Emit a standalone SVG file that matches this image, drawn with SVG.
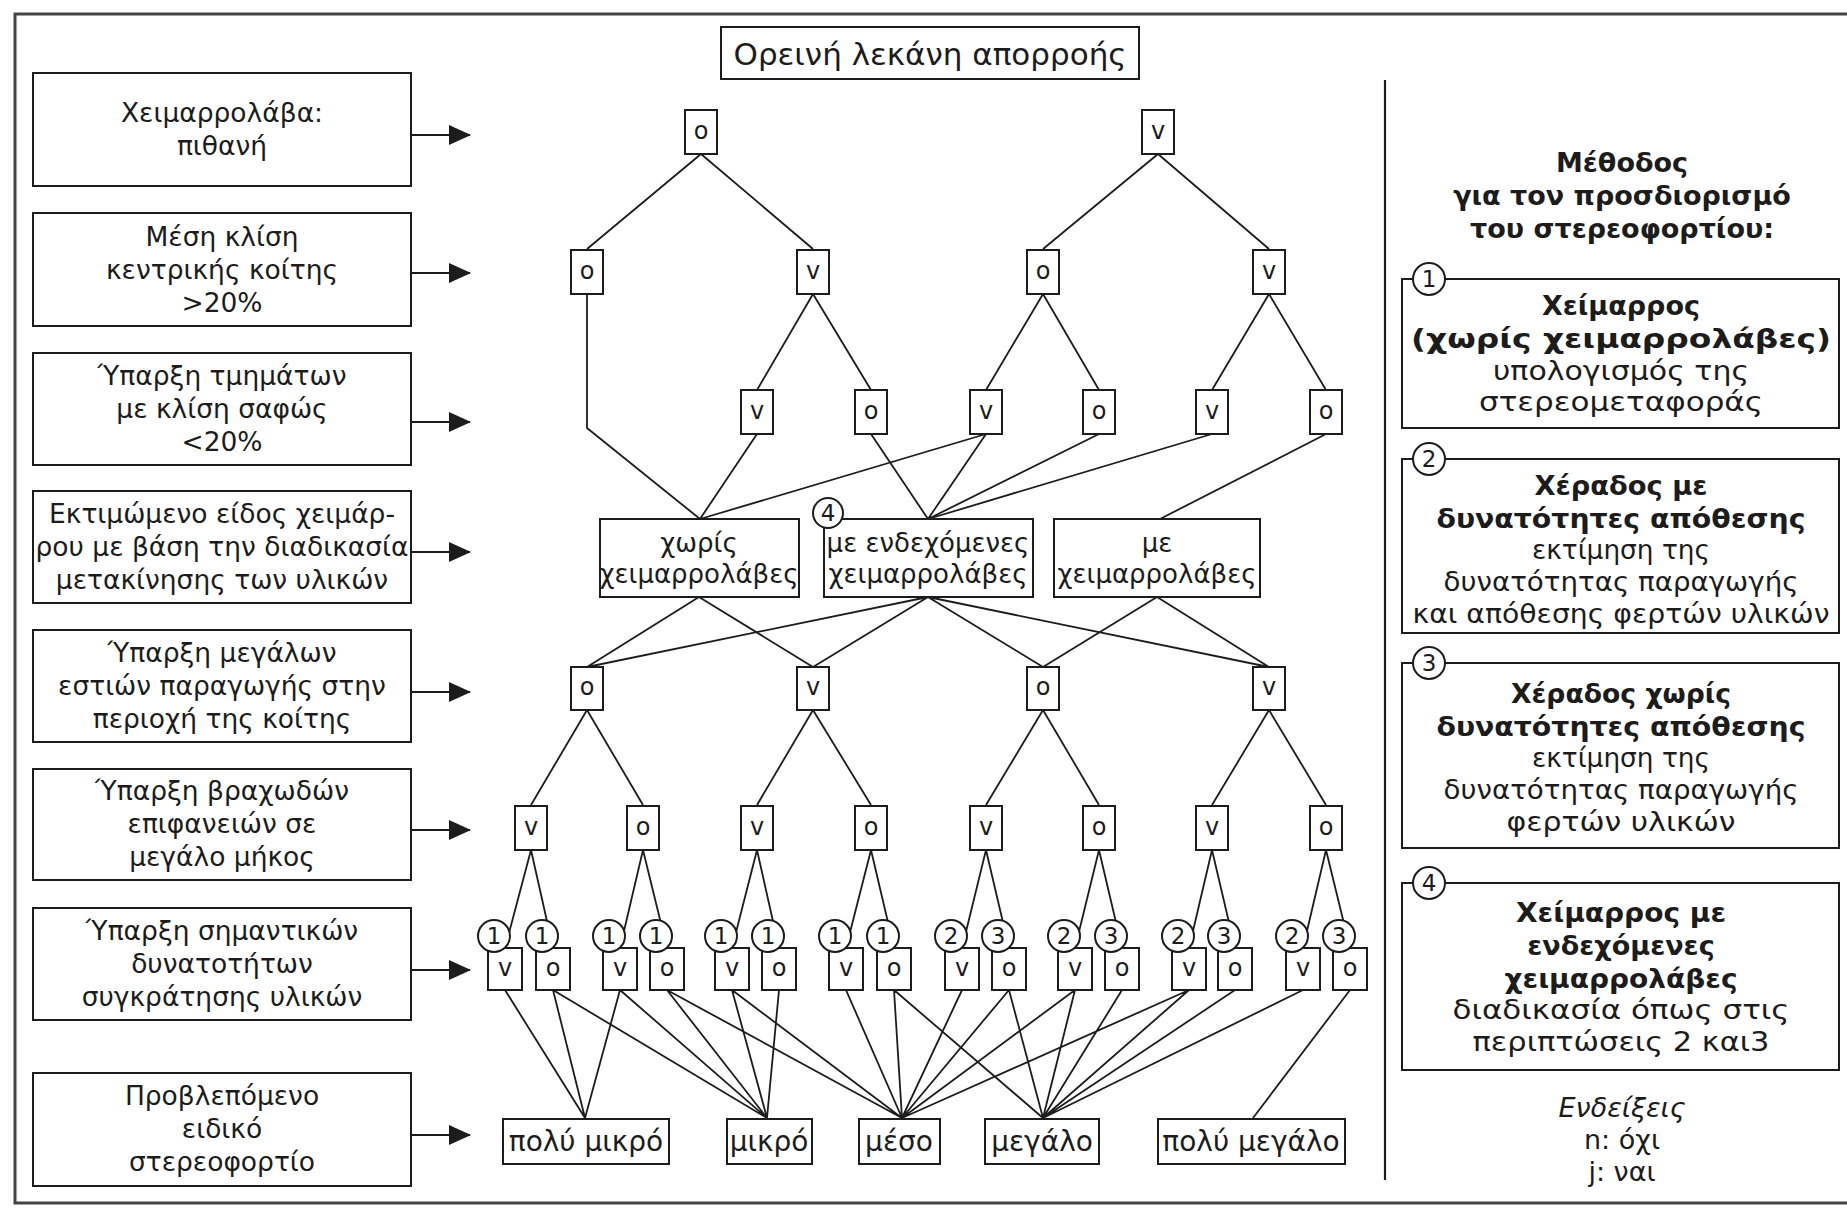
<svg xmlns="http://www.w3.org/2000/svg" width="1847" height="1208" viewBox="0 0 1847 1208">
<defs>
<style>
text{font-family:"DejaVu Sans","Liberation Sans",sans-serif;fill:#1c1c1c}
.bx{fill:#fff;stroke:#1c1c1c;stroke-width:2}
.ln{stroke:#1c1c1c;stroke-width:1.8;fill:none}
.lb{font-size:26.5px;text-anchor:middle}
.dl{font-size:26px;text-anchor:middle}
.nd{font-size:24px;text-anchor:middle}
.ci{fill:#fff;stroke:#1c1c1c;stroke-width:2}
.cn{font-size:23px;text-anchor:middle}
.rb{font-size:27px;font-weight:bold;text-anchor:middle}
.rr{font-size:27px;text-anchor:middle}
.rs{font-size:28px;text-anchor:middle}
</style>
<marker id="ah" markerUnits="userSpaceOnUse" markerWidth="22" markerHeight="20" refX="21" refY="10" orient="auto">
<path d="M0,0 L22,10 L0,20 Z" fill="#1c1c1c"/>
</marker>
</defs>
<rect width="1847" height="1208" fill="#fff"/>
<path d="M1847,14 H15 V1203 H1847" fill="none" stroke="#444" stroke-width="3"/>
<line x1="1385" y1="80" x2="1385" y2="1180" stroke="#1c1c1c" stroke-width="2.2"/>

<g id="title">
<rect x="721" y="27" width="418" height="52" class="bx" stroke-width="2.6"/>
<text x="930" y="65" font-size="31" text-anchor="middle">Ορεινή λεκάνη απορροής</text>
</g>

<!-- left criteria boxes -->
<g id="crit1"><rect x="33" y="73" width="378" height="113" class="bx"/>
<text class="lb" x="222" y="122">Χειμαρρολάβα:</text><text class="lb" x="222" y="155">πιθανή</text></g>
<g id="crit2"><rect x="33" y="213" width="378" height="113" class="bx"/>
<text class="lb" x="222" y="246">Μέση κλίση</text><text class="lb" x="222" y="279">κεντρικής κοίτης</text><text class="lb" x="222" y="312">&gt;20%</text></g>
<g id="crit3"><rect x="33" y="353" width="378" height="112" class="bx"/>
<text class="lb" x="222" y="385">Ύπαρξη τμημάτων</text><text class="lb" x="222" y="418">με κλίση σαφώς</text><text class="lb" x="222" y="451">&lt;20%</text></g>
<g id="crit4"><rect x="33" y="491" width="378" height="112" class="bx"/>
<text class="lb" x="222" y="523">Εκτιμώμενο είδος χειμάρ-</text><text class="lb" x="222" y="556">ρου με βάση την διαδικασία</text><text class="lb" x="222" y="589">μετακίνησης των υλικών</text></g>
<g id="crit5"><rect x="33" y="630" width="378" height="112" class="bx"/>
<text class="lb" x="222" y="662">Ύπαρξη μεγάλων</text><text class="lb" x="222" y="695">εστιών παραγωγής στην</text><text class="lb" x="222" y="728">περιοχή της κοίτης</text></g>
<g id="crit6"><rect x="33" y="769" width="378" height="111" class="bx"/>
<text class="lb" x="222" y="800">Ύπαρξη βραχωδών</text><text class="lb" x="222" y="833">επιφανειών σε</text><text class="lb" x="222" y="866">μεγάλο μήκος</text></g>
<g id="crit7"><rect x="33" y="908" width="378" height="112" class="bx"/>
<text class="lb" x="222" y="940">Ύπαρξη σημαντικών</text><text class="lb" x="222" y="973">δυνατοτήτων</text><text class="lb" x="222" y="1006">συγκράτησης υλικών</text></g>
<g id="crit8"><rect x="33" y="1073" width="378" height="113" class="bx"/>
<text class="lb" x="222" y="1105">Προβλεπόμενο</text><text class="lb" x="222" y="1138">ειδικό</text><text class="lb" x="222" y="1171">στερεοφορτίο</text></g>

<g id="connectors" class="ln">
<line x1="411" y1="135" x2="470" y2="135" marker-end="url(#ah)"/>
<line x1="411" y1="273" x2="470" y2="273" marker-end="url(#ah)"/>
<line x1="411" y1="422" x2="470" y2="422" marker-end="url(#ah)"/>
<line x1="411" y1="552" x2="470" y2="552" marker-end="url(#ah)"/>
<line x1="411" y1="692" x2="470" y2="692" marker-end="url(#ah)"/>
<line x1="411" y1="830" x2="470" y2="830" marker-end="url(#ah)"/>
<line x1="411" y1="970" x2="470" y2="970" marker-end="url(#ah)"/>
<line x1="411" y1="1135" x2="470" y2="1135" marker-end="url(#ah)"/>
<path d="M701,154 L587,249 M701,154 L813,249 M1158,154 L1043,249 M1158,154 L1269,249"/>
<path d="M813,294 L757,390 M813,294 L871,390 M1043,294 L986,390 M1043,294 L1099,390 M1269,294 L1212,390 M1269,294 L1326,390"/>
<path d="M587,294 L587,428 L700,519 M757,434 L700,519 M986,434 L700,519 M871,434 L928,519 M986,434 L928,519 M1099,434 L928,519 M1212,434 L928,519 M1326,434 L1160,519"/>
<path d="M699,597 L587,667 M699,597 L813,667 M928,597 L587,667 M928,597 L813,667 M928,597 L1043,667 M928,597 L1269,667 M1157,597 L1043,667 M1157,597 L1269,667"/>
<path d="M587,710 L531,805 M587,710 L643,805 M813,710 L757,805 M813,710 L871,805 M1043,710 L986,805 M1043,710 L1099,805 M1269,710 L1212,805 M1269,710 L1326,805"/>
<path d="M531,850 L505,948 M531,850 L553,948 M643,850 L620,948 M643,850 L667,948 M757,850 L732,948 M757,850 L779,948 M871,850 L846,948 M871,850 L894,948 M986,850 L962,948 M986,850 L1009,948 M1099,850 L1075,948 M1099,850 L1122,948 M1212,850 L1189,948 M1212,850 L1235,948 M1326,850 L1303,948 M1326,850 L1350,948"/>
<path d="M505,990 L585,1118 M553,990 L585,1118 M553,990 L767,1118 M620,990 L585,1118 M620,990 L767,1118 M667,990 L767,1118 M667,990 L902,1118 M732,990 L767,1118 M732,990 L902,1118 M779,990 L767,1118 M846,990 L902,1118 M894,990 L902,1118 M894,990 L1043,1118 M962,990 L902,1118 M1009,990 L902,1118 M1009,990 L1043,1118 M1075,990 L902,1118 M1075,990 L1043,1118 M1122,990 L1043,1118 M1189,990 L902,1118 M1189,990 L1043,1118 M1235,990 L1043,1118 M1303,990 L1043,1118 M1350,990 L1253,1118"/>
</g>

<g id="a1"><rect x="685" y="110" width="32" height="44" class="bx"/><text class="nd" x="701" y="139">o</text></g>
<g id="a2"><rect x="1142" y="110" width="32" height="44" class="bx"/><text class="nd" x="1158" y="139">v</text></g>
<g id="b1"><rect x="571" y="250" width="32" height="44" class="bx"/><text class="nd" x="587" y="279">o</text></g>
<g id="b2"><rect x="797" y="250" width="32" height="44" class="bx"/><text class="nd" x="813" y="279">v</text></g>
<g id="b3"><rect x="1027" y="250" width="32" height="44" class="bx"/><text class="nd" x="1043" y="279">o</text></g>
<g id="b4"><rect x="1253" y="250" width="32" height="44" class="bx"/><text class="nd" x="1269" y="279">v</text></g>
<g id="c1"><rect x="741" y="390" width="32" height="44" class="bx"/><text class="nd" x="757" y="419">v</text></g>
<g id="c2"><rect x="855" y="390" width="32" height="44" class="bx"/><text class="nd" x="871" y="419">o</text></g>
<g id="c3"><rect x="970" y="390" width="32" height="44" class="bx"/><text class="nd" x="986" y="419">v</text></g>
<g id="c4"><rect x="1083" y="390" width="32" height="44" class="bx"/><text class="nd" x="1099" y="419">o</text></g>
<g id="c5"><rect x="1196" y="390" width="32" height="44" class="bx"/><text class="nd" x="1212" y="419">v</text></g>
<g id="c6"><rect x="1310" y="390" width="32" height="44" class="bx"/><text class="nd" x="1326" y="419">o</text></g>
<g id="d1"><rect x="600" y="519" width="199" height="78" class="bx"/>
<text class="dl" x="699" y="552">χωρίς</text><text class="dl" x="699" y="583">χειμαρρολάβες</text></g>
<g id="d2"><rect x="824" y="519" width="209" height="78" class="bx"/>
<text class="dl" x="928" y="552">με ενδεχόμενες</text><text class="dl" x="928" y="583">χειμαρρολάβες</text>
<circle cx="828" cy="513" r="15" class="ci"/><text class="cn" x="828" y="521" font-size="21">4</text></g>
<g id="d3"><rect x="1054" y="519" width="206" height="78" class="bx"/>
<text class="dl" x="1157" y="552">με</text><text class="dl" x="1157" y="583">χειμαρρολάβες</text></g>
<g id="e1"><rect x="571" y="667" width="32" height="43" class="bx"/><text class="nd" x="587" y="695">o</text></g>
<g id="e2"><rect x="797" y="667" width="32" height="43" class="bx"/><text class="nd" x="813" y="695">v</text></g>
<g id="e3"><rect x="1027" y="667" width="32" height="43" class="bx"/><text class="nd" x="1043" y="695">o</text></g>
<g id="e4"><rect x="1253" y="667" width="32" height="43" class="bx"/><text class="nd" x="1269" y="695">v</text></g>
<g id="f1"><rect x="515" y="806" width="32" height="44" class="bx"/><text class="nd" x="531" y="835">v</text></g>
<g id="f2"><rect x="627" y="806" width="32" height="44" class="bx"/><text class="nd" x="643" y="835">o</text></g>
<g id="f3"><rect x="741" y="806" width="32" height="44" class="bx"/><text class="nd" x="757" y="835">v</text></g>
<g id="f4"><rect x="855" y="806" width="32" height="44" class="bx"/><text class="nd" x="871" y="835">o</text></g>
<g id="f5"><rect x="970" y="806" width="32" height="44" class="bx"/><text class="nd" x="986" y="835">v</text></g>
<g id="f6"><rect x="1083" y="806" width="32" height="44" class="bx"/><text class="nd" x="1099" y="835">o</text></g>
<g id="f7"><rect x="1196" y="806" width="32" height="44" class="bx"/><text class="nd" x="1212" y="835">v</text></g>
<g id="f8"><rect x="1310" y="806" width="32" height="44" class="bx"/><text class="nd" x="1326" y="835">o</text></g>
<g id="g1"><rect x="488" y="948" width="34" height="42" class="bx"/><text class="nd" x="505" y="976">v</text><circle cx="494" cy="936" r="16" class="ci"/><text class="cn" x="494" y="944">1</text></g>
<g id="g2"><rect x="536" y="948" width="34" height="42" class="bx"/><text class="nd" x="553" y="976">o</text><circle cx="542" cy="936" r="16" class="ci"/><text class="cn" x="542" y="944">1</text></g>
<g id="g3"><rect x="603" y="948" width="34" height="42" class="bx"/><text class="nd" x="620" y="976">v</text><circle cx="609" cy="936" r="16" class="ci"/><text class="cn" x="609" y="944">1</text></g>
<g id="g4"><rect x="650" y="948" width="34" height="42" class="bx"/><text class="nd" x="667" y="976">o</text><circle cx="656" cy="936" r="16" class="ci"/><text class="cn" x="656" y="944">1</text></g>
<g id="g5"><rect x="715" y="948" width="34" height="42" class="bx"/><text class="nd" x="732" y="976">v</text><circle cx="721" cy="936" r="16" class="ci"/><text class="cn" x="721" y="944">1</text></g>
<g id="g6"><rect x="762" y="948" width="34" height="42" class="bx"/><text class="nd" x="779" y="976">o</text><circle cx="768" cy="936" r="16" class="ci"/><text class="cn" x="768" y="944">1</text></g>
<g id="g7"><rect x="829" y="948" width="34" height="42" class="bx"/><text class="nd" x="846" y="976">v</text><circle cx="835" cy="936" r="16" class="ci"/><text class="cn" x="835" y="944">1</text></g>
<g id="g8"><rect x="877" y="948" width="34" height="42" class="bx"/><text class="nd" x="894" y="976">o</text><circle cx="883" cy="936" r="16" class="ci"/><text class="cn" x="883" y="944">1</text></g>
<g id="g9"><rect x="945" y="948" width="34" height="42" class="bx"/><text class="nd" x="962" y="976">v</text><circle cx="951" cy="936" r="16" class="ci"/><text class="cn" x="951" y="944">2</text></g>
<g id="g10"><rect x="992" y="948" width="34" height="42" class="bx"/><text class="nd" x="1009" y="976">o</text><circle cx="998" cy="936" r="16" class="ci"/><text class="cn" x="998" y="944">3</text></g>
<g id="g11"><rect x="1058" y="948" width="34" height="42" class="bx"/><text class="nd" x="1075" y="976">v</text><circle cx="1064" cy="936" r="16" class="ci"/><text class="cn" x="1064" y="944">2</text></g>
<g id="g12"><rect x="1105" y="948" width="34" height="42" class="bx"/><text class="nd" x="1122" y="976">o</text><circle cx="1111" cy="936" r="16" class="ci"/><text class="cn" x="1111" y="944">3</text></g>
<g id="g13"><rect x="1172" y="948" width="34" height="42" class="bx"/><text class="nd" x="1189" y="976">v</text><circle cx="1178" cy="936" r="16" class="ci"/><text class="cn" x="1178" y="944">2</text></g>
<g id="g14"><rect x="1218" y="948" width="34" height="42" class="bx"/><text class="nd" x="1235" y="976">o</text><circle cx="1224" cy="936" r="16" class="ci"/><text class="cn" x="1224" y="944">3</text></g>
<g id="g15"><rect x="1286" y="948" width="34" height="42" class="bx"/><text class="nd" x="1303" y="976">v</text><circle cx="1292" cy="936" r="16" class="ci"/><text class="cn" x="1292" y="944">2</text></g>
<g id="g16"><rect x="1333" y="948" width="34" height="42" class="bx"/><text class="nd" x="1350" y="976">o</text><circle cx="1339" cy="936" r="16" class="ci"/><text class="cn" x="1339" y="944">3</text></g>
<g id="h1"><rect x="503" y="1119" width="166" height="45" class="bx"/><text class="rs" x="586" y="1151">πολύ μικρό</text></g>
<g id="h2"><rect x="727" y="1119" width="85" height="45" class="bx"/><text class="rs" x="769" y="1151">μικρό</text></g>
<g id="h3"><rect x="859" y="1119" width="81" height="45" class="bx"/><text class="rs" x="899" y="1151">μέσο</text></g>
<g id="h4"><rect x="985" y="1119" width="114" height="45" class="bx"/><text class="rs" x="1042" y="1151">μεγάλο</text></g>
<g id="h5"><rect x="1158" y="1119" width="187" height="45" class="bx"/><text class="rs" x="1251" y="1151">πολύ μεγάλο</text></g>

<g id="method-heading">
<text class="rb" x="1622" y="172">Μέθοδος</text>
<text class="rb" x="1622" y="205">για τον προσδιορισμό</text>
<text class="rb" x="1622" y="238">του στερεοφορτίου:</text>
</g>
<g id="m1"><rect x="1402" y="279" width="437" height="149" class="bx"/>
<circle cx="1429" cy="279" r="16" class="ci"/><text class="cn" x="1429" y="287">1</text>
<text class="rb" x="1621" y="315">Χείμαρρος</text>
<text class="rb" x="1621" y="348" textLength="420" lengthAdjust="spacingAndGlyphs">(χωρίς χειμαρρολάβες)</text>
<text class="rr" x="1621" y="380" textLength="256" lengthAdjust="spacingAndGlyphs">υπολογισμός της</text>
<text class="rr" x="1621" y="411" textLength="284" lengthAdjust="spacingAndGlyphs">στερεομεταφοράς</text></g>
<g id="m2"><rect x="1402" y="459" width="437" height="174" class="bx"/>
<circle cx="1429" cy="459" r="16" class="ci"/><text class="cn" x="1429" y="467">2</text>
<text class="rb" x="1621" y="495" textLength="173" lengthAdjust="spacingAndGlyphs">Χέραδος με</text>
<text class="rb" x="1621" y="528" textLength="369" lengthAdjust="spacingAndGlyphs">δυνατότητες απόθεσης</text>
<text class="rr" x="1621" y="559" textLength="178" lengthAdjust="spacingAndGlyphs">εκτίμηση της</text>
<text class="rr" x="1621" y="591" textLength="355" lengthAdjust="spacingAndGlyphs">δυνατότητας παραγωγής</text>
<text class="rr" x="1621" y="623" textLength="417" lengthAdjust="spacingAndGlyphs">και απόθεσης φερτών υλικών</text></g>
<g id="m3"><rect x="1402" y="663" width="437" height="185" class="bx"/>
<circle cx="1429" cy="663" r="16" class="ci"/><text class="cn" x="1429" y="671">3</text>
<text class="rb" x="1621" y="703" textLength="220" lengthAdjust="spacingAndGlyphs">Χέραδος χωρίς</text>
<text class="rb" x="1621" y="736" textLength="369" lengthAdjust="spacingAndGlyphs">δυνατότητες απόθεσης</text>
<text class="rr" x="1621" y="767" textLength="178" lengthAdjust="spacingAndGlyphs">εκτίμηση της</text>
<text class="rr" x="1621" y="799" textLength="355" lengthAdjust="spacingAndGlyphs">δυνατότητας παραγωγής</text>
<text class="rr" x="1621" y="831" textLength="229" lengthAdjust="spacingAndGlyphs">φερτών υλικών</text></g>
<g id="m4"><rect x="1402" y="883" width="437" height="187" class="bx"/>
<circle cx="1429" cy="883" r="16" class="ci"/><text class="cn" x="1429" y="891">4</text>
<text class="rb" x="1621" y="922" textLength="210" lengthAdjust="spacingAndGlyphs">Χείμαρρος με</text>
<text class="rb" x="1621" y="955">ενδεχόμενες</text>
<text class="rb" x="1621" y="988" textLength="233" lengthAdjust="spacingAndGlyphs">χειμαρρολάβες</text>
<text class="rr" x="1621" y="1019" textLength="337" lengthAdjust="spacingAndGlyphs">διαδικασία όπως στις</text>
<text class="rr" x="1621" y="1051" textLength="297" lengthAdjust="spacingAndGlyphs">περιπτώσεις 2 και3</text></g>
<g id="legend">
<text class="rr" x="1622" y="1117" font-style="italic">Ενδείξεις</text>
<text class="rr" x="1622" y="1149">n: όχι</text>
<text class="rr" x="1622" y="1181">j: ναι</text>
</g>
</svg>
